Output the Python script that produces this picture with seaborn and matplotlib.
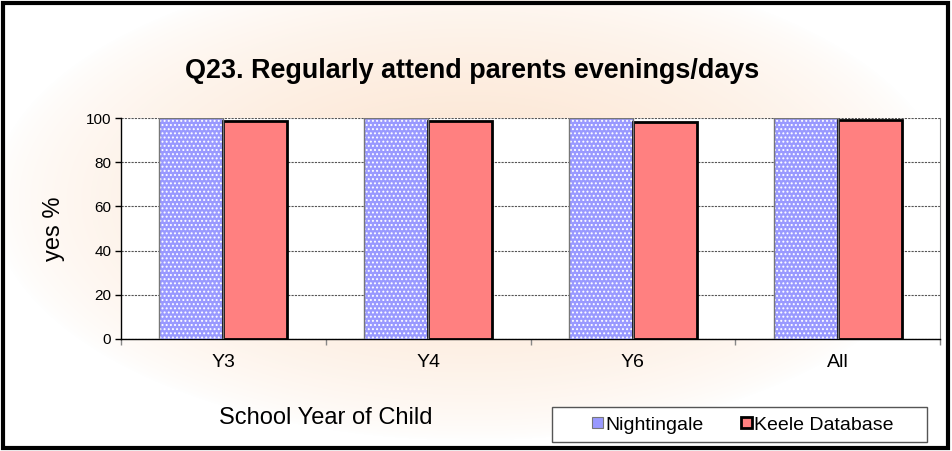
# Q23 - Regularly attend parents evenings/days
import numpy as np
import pandas as pd
import seaborn as sns
import matplotlib.pyplot as plt
from matplotlib.patches import Rectangle

# ------------------------------------------------------------
# DONNEES
# ------------------------------------------------------------
annees = ["Y3", "Y4", "Y6", "All"]
nightingale = [100, 100, 100, 100]
keele = [98.7, 98.8, 98.3, 99.0]
series = ["Nightingale", "Keele Database"]

df = pd.DataFrame({
    "annee": annees * 2,
    "valeur": nightingale + keele,
    "serie": [series[0]] * 4 + [series[1]] * 4,
})

sns.set_style("white")
plt.rcParams["font.family"] = ["Liberation Sans", "DejaVu Sans"]
plt.rcParams["text.color"] = "black"
plt.rcParams["axes.labelcolor"] = "black"
plt.rcParams["xtick.color"] = "black"
plt.rcParams["ytick.color"] = "black"
plt.rcParams["hatch.linewidth"] = 0.9

fig = plt.figure(figsize=(9.52, 4.51), dpi=100)

# fond degrade peche
bg = fig.add_axes([0, 0, 1, 1], zorder=-10)
yy, xx = np.mgrid[0:451, 0:952]
d = np.sqrt(((xx - 470) / 480.0) ** 2 + ((yy - 200) / 240.0) ** 2)
t = np.clip(1 - d, 0, 1) ** 0.7
peche = np.array([252, 226, 204]) / 255.0
img = 1 - t[..., None] * (1 - peche)
bg.imshow(img, aspect="auto", extent=[0, 1, 0, 1], origin="upper")
bg.axis("off")

ax = fig.add_axes([121 / 952, 1 - 339 / 451, 819 / 952, 221 / 451])
ax.set_facecolor("white")

sns.barplot(data=df, x="annee", y="valeur", hue="serie", order=annees,
            hue_order=series, palette=["#9999ff", "#ff8080"], saturation=1,
            width=0.625, gap=0, ax=ax, legend=False, zorder=3)

n = len(annees)
for i, p in enumerate(ax.patches[:2 * n]):
    if i < n:
        p.set_hatch("....")
        p.set_edgecolor("white")
        p.set_linewidth(0)
        ax.add_patch(Rectangle(p.get_xy(), p.get_width(), p.get_height(),
                               fill=False, edgecolor="#777777", lw=1, zorder=4))
    else:
        p.set_edgecolor("black")
        p.set_linewidth(2)

ax.set_ylim(0, 100)
ax.set_xlim(-0.5, n - 0.5)
ax.set_yticks(range(0, 101, 20))
ax.yaxis.grid(True, color="#555555", linestyle=(0, (2, 1)), linewidth=0.8)
ax.set_axisbelow(True)
ax.tick_params(axis="y", labelsize=11, length=4, width=1, pad=3, left=True, color="black")
ax.set_xticks(np.arange(-0.5, n, 1.0), minor=True)
ax.tick_params(axis="x", which="minor", length=4, width=1, color="#888888", bottom=True)
ax.tick_params(axis="x", which="major", length=0, labelsize=14, pad=11)
for s in ["left", "bottom"]:
    ax.spines[s].set_color("black")
    ax.spines[s].set_linewidth(1)
ax.spines["top"].set_visible(False)
ax.spines["right"].set_color("#888888")
ax.set_xlabel("")
ax.set_ylabel("yes %", fontsize=17, labelpad=15)

fig.text(326 / 952, 1 - 418 / 451, "School Year of Child", fontsize=17,
         ha="center", va="center")
fig.text(472 / 952, 1 - 71 / 451, "Q23. Regularly attend parents evenings/days",
         fontsize=19.4, fontweight="bold", ha="center", va="center")

# legende (cadre dessine a part)
fig.patches.append(Rectangle((552 / 952, 1 - 442 / 451), 375 / 952, 35 / 451,
                             transform=fig.transFigure, facecolor="white",
                             edgecolor="#555555", lw=1, zorder=5))
handles = [
    Rectangle((0, 0), 1, 1, facecolor="#9999ff", edgecolor="#777777", lw=0.8),
    Rectangle((0, 0), 1, 1, facecolor="#ff8080", edgecolor="black", lw=2),
]
leg = fig.legend(handles, series, ncol=2, fontsize=14, loc="center",
                 bbox_to_anchor=(743 / 952, 1 - 425 / 451),
                 handlelength=0.55, handleheight=0.55, handletextpad=0.15,
                 columnspacing=1.9, frameon=False, borderpad=0.2)
leg.set_zorder(6)

# cadre exterieur
fig.patches.append(Rectangle((3 / 952, 3 / 451), 945 / 952, 445 / 451,
                             transform=fig.transFigure, fill=False,
                             edgecolor="black", lw=3, zorder=10))

fig.savefig("out.png", dpi=100)
